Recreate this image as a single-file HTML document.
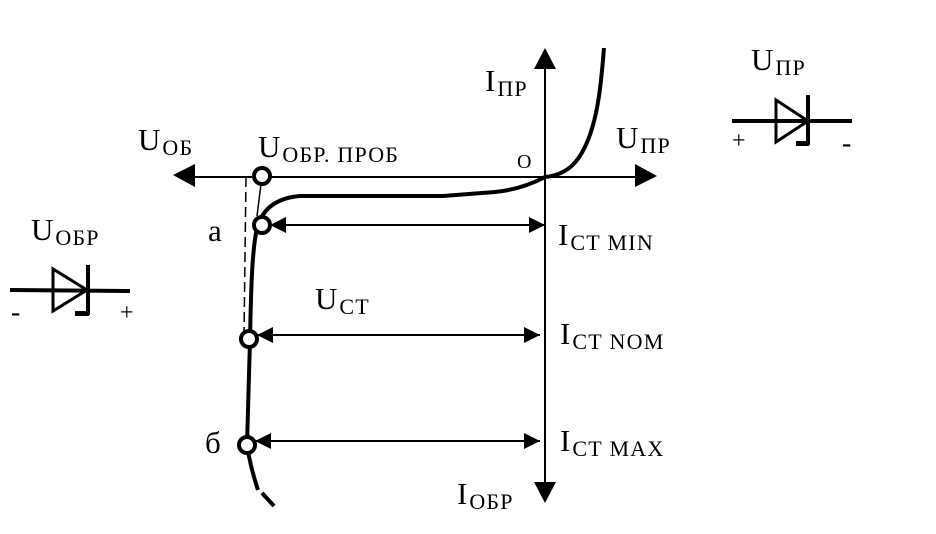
<!DOCTYPE html>
<html><head><meta charset="utf-8"><style>
html,body{margin:0;padding:0;background:#fff;}
svg{display:block;}
text{font-family:"Liberation Serif","DejaVu Serif",serif;fill:#000;}
.b{font-size:31px}.s{font-size:22px;letter-spacing:1.2px}
</style></head><body>
<svg width="936" height="534" viewBox="0 0 936 534" xmlns="http://www.w3.org/2000/svg">
<defs>
<marker id="as" viewBox="0 0 10 10" refX="10" refY="5" markerWidth="20" markerHeight="16" markerUnits="userSpaceOnUse" orient="auto-start-reverse"><path d="M0,0 L10,5 L0,10 z"/></marker>
</defs>
<line x1="195" y1="177" x2="636" y2="177" stroke="#000" stroke-width="2"/>
<polygon points="173,175 195,164 195,187"/>
<polygon points="657,176 635,164 635,187"/>
<line x1="545" y1="68" x2="545" y2="482" stroke="#000" stroke-width="2"/>
<polygon points="545,48 534,69 556,69"/>
<polygon points="545,503 534,482 556,482"/>
<path d="M545,177 C565,175 578,165 588,140 C598,115 601,85 604,48" fill="none" stroke="#000" stroke-width="4"/>
<path d="M545,177 C530,185 515,190 495,192 L443,196 L300,196 C275,198 262,210 257,228 C252,250 251,290 250,340 L247,445" fill="none" stroke="#000" stroke-width="4"/>
<path d="M247,445 C250,465 254,478 258,490" fill="none" stroke="#000" stroke-width="4"/>
<path d="M262,493 L274,506" fill="none" stroke="#000" stroke-width="4"/>
<line x1="246" y1="177" x2="244" y2="335" stroke="#000" stroke-width="1.5" stroke-dasharray="10,5"/>
<line x1="261" y1="184" x2="257" y2="216" stroke="#000" stroke-width="1.5"/>
<line x1="270" y1="225" x2="545" y2="225" stroke="#000" stroke-width="2" marker-start="url(#as)" marker-end="url(#as)"/>
<line x1="257" y1="335" x2="540" y2="335" stroke="#000" stroke-width="2" marker-start="url(#as)" marker-end="url(#as)"/>
<line x1="255" y1="441" x2="540" y2="441" stroke="#000" stroke-width="2" marker-start="url(#as)" marker-end="url(#as)"/>
<g fill="#fff" stroke="#000" stroke-width="4">
<circle cx="262" cy="176" r="8"/><circle cx="262" cy="225" r="8"/><circle cx="249" cy="339" r="8"/><circle cx="247" cy="445" r="8"/>
</g>
<line x1="10" y1="290" x2="130" y2="291" stroke="#000" stroke-width="4"/>
<polygon points="53,269 53,311 87,290" fill="none" stroke="#000" stroke-width="3"/>
<line x1="88" y1="265" x2="88" y2="315" stroke="#000" stroke-width="4"/>
<rect x="75" y="311" width="14" height="5"/>
<line x1="732" y1="121" x2="852" y2="121" stroke="#000" stroke-width="4"/>
<polygon points="776,100 776,142 808,121" fill="none" stroke="#000" stroke-width="3"/>
<line x1="808" y1="95" x2="808" y2="145" stroke="#000" stroke-width="4"/>
<rect x="796" y="141" width="13" height="5"/>
<text x="485" y="91" class="b">I<tspan class="s" dx="2" dy="5">ПР</tspan></text>
<text x="751" y="70" class="b">U<tspan class="s" dx="2" dy="5">ПР</tspan></text>
<text x="616" y="148" class="b">U<tspan class="s" dx="2" dy="5">ПР</tspan></text>
<text x="517" y="168" style="font-size:20px">O</text>
<text x="138" y="150" class="b">U<tspan class="s" dx="2" dy="5">ОБ</tspan></text>
<text x="258" y="157" class="b">U<tspan class="s" dx="2" dy="5">ОБР. ПРОБ</tspan></text>
<text x="31" y="240" class="b">U<tspan class="s" dx="2" dy="5">ОБР</tspan></text>
<text x="208" y="241" class="b">а</text>
<text x="315" y="309" class="b">U<tspan class="s" dx="2" dy="5">СТ</tspan></text>
<text x="205" y="453" class="b">б</text>
<text x="558" y="245" class="b">I<tspan class="s" dx="2" dy="5">СТ MIN</tspan></text>
<text x="560" y="344" class="b">I<tspan class="s" dx="2" dy="5">СТ NOM</tspan></text>
<text x="560" y="451" class="b">I<tspan class="s" dx="2" dy="5">СТ MAX</tspan></text>
<text x="457" y="504" class="b">I<tspan class="s" dx="2" dy="5">ОБР</tspan></text>
<text x="732" y="148" style="font-size:24px">+</text>
<text x="842" y="152" style="font-size:28px">-</text>
<text x="11" y="321" style="font-size:28px">-</text>
<text x="120" y="320" style="font-size:24px">+</text>
</svg>
</body></html>
